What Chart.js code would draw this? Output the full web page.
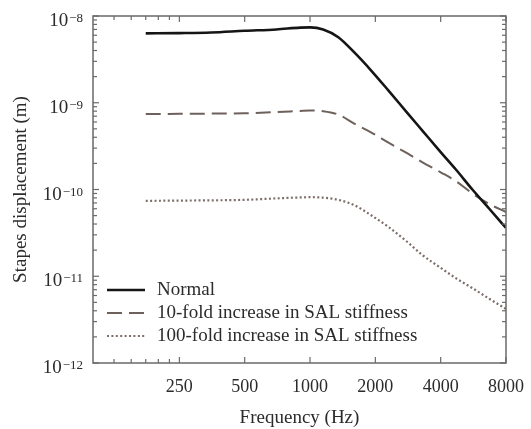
<!DOCTYPE html>
<html>
<head>
<meta charset="utf-8">
<script src="https://cdn.jsdelivr.net/npm/chart.js@4.4.1/dist/chart.umd.min.js"></script>
<style>
  body { margin: 0; background: #fff; }
  canvas { display: block; }
</style>
</head>
<body>
<canvas id="stapes" width="531" height="429"></canvas>
<script>
// frequency in Hz, displacement in m
const freqHz = [175, 250, 350, 500, 700, 900, 1000, 1150, 1350, 1600, 1900, 2300, 2800, 3300, 4000, 4700, 5600, 6700, 8000];
const normal = [6.3e-9, 6.35e-9, 6.45e-9, 6.75e-9, 7.0e-9, 7.35e-9, 7.4e-9, 7.0e-9, 5.7e-9, 3.8e-9, 2.4e-9, 1.38e-9, 7.7e-10, 4.75e-10, 2.7e-10, 1.7e-10, 1.0e-10, 6.0e-11, 3.6e-11];
const tenFold = [7.4e-10, 7.45e-10, 7.5e-10, 7.55e-10, 7.8e-10, 8.05e-10, 8.15e-10, 8.0e-10, 7.3e-10, 5.75e-10, 4.6e-10, 3.47e-10, 2.62e-10, 2.06e-10, 1.58e-10, 1.25e-10, 9.0e-11, 6.8e-11, 5.5e-11];
const hundredFold = [7.4e-11, 7.45e-11, 7.5e-11, 7.6e-11, 7.9e-11, 8.1e-11, 8.15e-11, 8.05e-11, 7.6e-11, 6.6e-11, 5.1e-11, 3.7e-11, 2.5e-11, 1.75e-11, 1.25e-11, 9.5e-12, 7.3e-12, 5.5e-12, 4.2e-12];

const xLabels = [250, 500, 1000, 2000, 4000, 8000];
const xMinorTicks = [125, 150, 175, 200, 225];
const yExponents = [-8, -9, -10, -11, -12];

const serif = '"Liberation Serif", "DejaVu Serif", serif';
const ink = '#2b2b2b';
const frameColor = '#6a6a6a';

const toPoints = vals => freqHz.map((f, i) => ({ x: f, y: vals[i] }));

// frame, inward ticks, y labels with exponents, legend inside plot
const framePlugin = {
  id: 'frame',
  afterDatasetsDraw(chart) {
    const { ctx, chartArea: a, scales: { x, y } } = chart;
    ctx.save();
    ctx.strokeStyle = frameColor;
    ctx.lineWidth = 1.5;
    ctx.strokeRect(a.left, a.top, a.right - a.left, a.bottom - a.top);

    const seg = (x1, y1, x2, y2) => { ctx.beginPath(); ctx.moveTo(x1, y1); ctx.lineTo(x2, y2); ctx.stroke(); };
    ctx.lineWidth = 1.2;

    xLabels.concat(xMinorTicks).forEach(v => {
      const p = x.getPixelForValue(v);
      const len = xMinorTicks.includes(v) ? 4 : 6;
      seg(p, a.bottom, p, a.bottom - len);
      seg(p, a.top, p, a.top + len);
    });

    yExponents.forEach(e => {
      for (let m = 1; m <= 9; m++) {
        const v = m * Math.pow(10, e);
        if (v > 1.0001e-8) continue;
        const p = y.getPixelForValue(v);
        const len = m === 1 ? 6 : 4;
        seg(a.left, p, a.left + len, p);
        seg(a.right, p, a.right - len, p);
      }
    });
    ctx.restore();
  },
  afterDraw(chart) {
    const { ctx, chartArea: a, scales: { y } } = chart;
    ctx.save();
    ctx.fillStyle = ink;
    ctx.textBaseline = 'alphabetic';
    ctx.textAlign = 'right';
    yExponents.forEach(e => {
      const p = y.getPixelForValue(Math.pow(10, e));
      const sup = '\u2212' + Math.abs(e);
      ctx.font = '13px ' + serif;
      const w = ctx.measureText(sup).width;
      ctx.fillText(sup, a.left - 10, p + 6);
      ctx.font = '19px ' + serif;
      ctx.fillText('10', a.left - 11 - w, p + 10);
    });

    // legend
    const rows = [a.bottom - 73, a.bottom - 50, a.bottom - 27];
    ctx.textAlign = 'left';
    ctx.textBaseline = 'middle';
    ctx.font = '19px ' + serif;
    chart.data.datasets.forEach((ds, i) => {
      const ry = rows[i];
      ctx.strokeStyle = ds.borderColor;
      ctx.lineWidth = ds.borderWidth;
      ctx.setLineDash(ds.borderDash || []);
      ctx.beginPath();
      ctx.moveTo(a.left + 14, ry);
      ctx.lineTo(a.left + 52, ry);
      ctx.stroke();
      ctx.setLineDash([]);
      ctx.fillStyle = ink;
      ctx.fillText(ds.label, a.left + 64, ry);
    });
    ctx.restore();
  }
};

new Chart('stapes', {
  type: 'line',
  data: {
    datasets: [
      {
        label: 'Normal',
        data: toPoints(normal),
        borderColor: '#151515',
        borderWidth: 2.6,
      },
      {
        label: '10-fold increase in SAL stiffness',
        data: toPoints(tenFold),
        borderColor: '#6e615c',
        borderWidth: 2,
        borderDash: [15, 7],
      },
      {
        label: '100-fold increase in SAL stiffness',
        data: toPoints(hundredFold),
        borderColor: '#7d6e69',
        borderWidth: 2.2,
        borderDash: [2, 2.4],
      },
    ],
  },
  options: {
    responsive: false,
    animation: false,
    datasets: { line: { pointRadius: 0, cubicInterpolationMode: 'monotone', fill: false } },
    layout: { padding: { top: 16, right: 25, left: 0, bottom: 0 } },
    plugins: {
      legend: { display: false },
      tooltip: { enabled: false },
    },
    scales: {
      x: {
        type: 'logarithmic',
        min: 100,
        max: 8000,
        grid: { display: false, drawTicks: false },
        border: { display: false },
        afterBuildTicks: s => { s.ticks = xLabels.map(v => ({ value: v })); },
        afterFit: s => { s.height = 66; s.paddingLeft = 0; s.paddingRight = 0; },
        ticks: {
          autoSkip: false,
          maxRotation: 0,
          padding: 13,
          color: ink,
          font: { family: serif, size: 18 },
          callback: v => String(v),
        },
        title: {
          display: true,
          text: 'Frequency (Hz)',
          color: ink,
          font: { family: serif, size: 19 },
          padding: { top: 0, bottom: 0 },
        },
      },
      y: {
        type: 'logarithmic',
        min: 1e-12,
        max: 1e-8,
        grid: { display: false, drawTicks: false },
        border: { display: false },
        afterFit: s => { s.width = 93; s.paddingTop = 0; s.paddingBottom = 0; },
        ticks: { callback: () => '' },
        title: {
          display: true,
          text: 'Stapes displacement (m)',
          color: ink,
          font: { family: serif, size: 19 },
          padding: { top: 10, bottom: 0 },
        },
      },
    },
  },
  plugins: [framePlugin],
});
</script>
</body>
</html>
